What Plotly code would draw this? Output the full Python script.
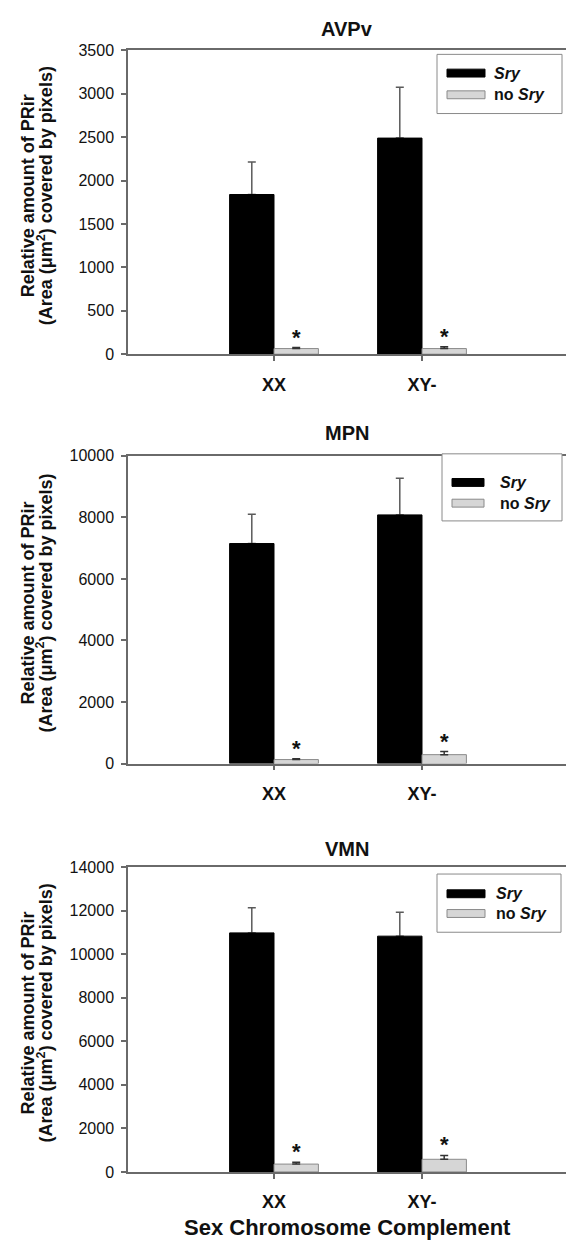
import plotly.graph_objects as go
from plotly.subplots import make_subplots

# ---------------- data ----------------
categories = ["XX", "XY-"]
regions = ["AVPv", "MPN", "VMN"]

sry_avpv = [1840, 2490]
sry_avpv_err = [375, 585]
nosry_avpv = [65, 65]
nosry_avpv_err = [12, 20]

sry_mpn = [7150, 8080]
sry_mpn_err = [950, 1190]
nosry_mpn = [130, 290]
nosry_mpn_err = [30, 100]

sry_vmn = [10980, 10830]
sry_vmn_err = [1150, 1100]
nosry_vmn = [360, 580]
nosry_vmn_err = [80, 180]

y_max = [3500, 10000, 14000]
y_dtick = [500, 2000, 2000]

series_names = ["<i>Sry</i>", "no <i>Sry</i>"]
x_title = "Sex Chromosome Complement"
y_title_1 = "Relative amount of PRir"
y_title_2 = "(Area (μm<sup>2</sup>) covered by pixels)"

panels = [
    (sry_avpv, sry_avpv_err, nosry_avpv, nosry_avpv_err),
    (sry_mpn, sry_mpn_err, nosry_mpn, nosry_mpn_err),
    (sry_vmn, sry_vmn_err, nosry_vmn, nosry_vmn_err),
]

# ---------------- geometry (page pixels of the reference) ----------------
W, H = 566, 1248

FONT = "Liberation Sans, Arial, Helvetica, sans-serif"
AXIS_COL = "#6a6a6a"
BLACK = "#000000"
GRAY_FILL = "#d6d6d6"
GRAY_LINE = "#8a8a8a"
TXT = "#111111"

plot_top_bot = [(43, 351), (454, 766), (871, 1180)]   # page px
plot_left = 128
plot_right = W
cat_px = (274, 422)                                      # page px of XX / XY-
unit = cat_px[1] - cat_px[0]
x_range = [(plot_left - cat_px[0]) / unit, (plot_right - cat_px[0]) / unit]


def fx(px):
    """page x -> paper fraction"""
    return (px - plot_left) / (plot_right - plot_left)


fig = make_subplots(rows=3, cols=1)

for i, (s, se, n, ne) in enumerate(panels):
    r = i + 1
    # error bars of the Sry bars, drawn first so the black bar hides their lower cap
    fig.add_trace(go.Bar(
        x=categories, y=s, name=series_names[0], showlegend=False, hoverinfo="skip",
        marker=dict(color="rgba(0,0,0,0)", line=dict(width=0)),
        error_y=dict(type="data", array=se, arrayminus=[0] * len(se), symmetric=False,
                     color="#5a5a5a", thickness=1.5, width=4),
        offsetgroup="a",
    ), row=r, col=1)
    fig.add_trace(go.Bar(
        x=categories, y=s, name=series_names[0], showlegend=False,
        marker=dict(color=BLACK, line=dict(color=BLACK, width=1)),
        offsetgroup="a",
    ), row=r, col=1)
    fig.add_trace(go.Bar(
        x=categories, y=n, name=series_names[1], showlegend=False,
        marker=dict(color=GRAY_FILL, line=dict(color=GRAY_LINE, width=1)),
        error_y=dict(type="data", array=ne, arrayminus=[0] * len(ne), symmetric=False,
                     color="#333333", thickness=1.5, width=4),
        offsetgroup="b",
    ), row=r, col=1)

fig.update_layout(
    width=W, height=H,
    margin=dict(l=plot_left, r=0, t=0, b=0),
    barmode="group", bargap=0.4, bargroupgap=0,
    plot_bgcolor="white", paper_bgcolor="white",
    font=dict(family=FONT, color=TXT),
    showlegend=False,
)

annotations = []
shapes = []

# legend geometry in page px: box (x0, x1, y0, y1), swatch (x0, x1), row centres, text x
legend_px = [
    dict(box=(437, 562, 47, 107), sw=(447, 485), ys=(66, 88), tx=492),
    dict(box=(442, 562, 452, 520), sw=(452, 484), ys=(481, 502), tx=498),
    dict(box=(437, 561, 878, 937), sw=(447, 485), ys=(898, 918), tx=494),
]
title_px = [21, 431, 853]

for i in range(3):
    top, bot = plot_top_bot[i]
    d0 = 1 - bot / H
    d1 = 1 - top / H

    def fy(py, top=top, bot=bot):
        return (bot - py) / (bot - top)

    xa = "xaxis" if i == 0 else f"xaxis{i+1}"
    ya = "yaxis" if i == 0 else f"yaxis{i+1}"
    xr = "x" if i == 0 else f"x{i+1}"
    yr = "y" if i == 0 else f"y{i+1}"
    fig.layout[xa].update(
        domain=[0, 1], type="category", range=x_range,
        showline=True, linecolor=AXIS_COL, linewidth=1.5, mirror=True,
        ticks="outside", ticklen=5, tickcolor=AXIS_COL, tickwidth=1.5,
        tickfont=dict(size=18, family=FONT, color=TXT, weight="bold"),
        ticklabelstandoff=8,
        showgrid=False, zeroline=False,
    )
    fig.layout[ya].update(
        domain=[d0, d1], range=[0, y_max[i]], dtick=y_dtick[i], tick0=0,
        tickformat="d",
        showline=True, linecolor=AXIS_COL, linewidth=1.5,
        ticks="outside", ticklen=5, tickcolor=AXIS_COL, tickwidth=1.5,
        tickfont=dict(size=16, family=FONT, color=TXT),
        ticklabelstandoff=4,
        showgrid=False, zeroline=False,
    )
    # panel title
    annotations.append(dict(
        text=f"<b>{regions[i]}</b>", xref="paper", yref=f"{yr} domain",
        x=0.5, y=fy(title_px[i]), xanchor="center", yanchor="middle", showarrow=False,
        font=dict(size=20, family=FONT, color=TXT),
    ))
    # y axis title (two lines)
    for xpx, txt in ((28, y_title_1), (45, y_title_2)):
        annotations.append(dict(
            text=f"<b>{txt}</b>", xref="paper", yref=f"{yr} domain",
            x=fx(xpx), y=0.52, xanchor="center", yanchor="middle",
            textangle=-90, showarrow=False,
            font=dict(size=18, family=FONT, color=TXT),
        ))
    # significance asterisks above the no-Sry bars
    n, ne = panels[i][2], panels[i][3]
    for j in range(len(categories)):
        annotations.append(dict(
            text="<b>*</b>", xref=xr, yref=yr, x=j + 0.15, y=n[j] + ne[j],
            xanchor="center", yanchor="bottom", yshift=-4, showarrow=False,
            font=dict(size=22, family=FONT, color=TXT),
        ))
    # legend drawn inside each panel
    g = legend_px[i]
    bx0, bx1, by0, by1 = g["box"]
    shapes.append(dict(type="rect", xref="paper", yref=f"{yr} domain",
                       x0=fx(bx0), x1=fx(bx1), y0=fy(by1), y1=fy(by0),
                       line=dict(color="#8a8a8a", width=1), fillcolor="white", layer="above"))
    for k, (fill, lc) in enumerate(((BLACK, BLACK), (GRAY_FILL, GRAY_LINE))):
        yc = g["ys"][k]
        shapes.append(dict(type="rect", xref="paper", yref=f"{yr} domain",
                           x0=fx(g["sw"][0]), x1=fx(g["sw"][1]),
                           y0=fy(yc + 4), y1=fy(yc - 4),
                           line=dict(color=lc, width=1), fillcolor=fill, layer="above"))
        annotations.append(dict(
            text=f"<b>{series_names[k]}</b>", xref="paper", yref=f"{yr} domain",
            x=fx(g["tx"]), y=fy(yc), xanchor="left", yanchor="middle", showarrow=False,
            font=dict(size=16, family=FONT, color=TXT),
        ))

# shared x axis title at bottom
annotations.append(dict(
    text=f"<b>{x_title}</b>", xref="paper", yref="paper",
    x=fx(347), y=1 - 1236 / H, xanchor="center", yanchor="middle", showarrow=False,
    font=dict(size=22, family=FONT, color=TXT),
))

fig.update_layout(annotations=annotations, shapes=shapes)
fig.write_html(
    "out.html",
    config={"displayModeBar": False},
    post_script="document.body.style.margin='0px';document.body.style.overflow='hidden';"
                "document.documentElement.style.overflow='hidden';",
)
